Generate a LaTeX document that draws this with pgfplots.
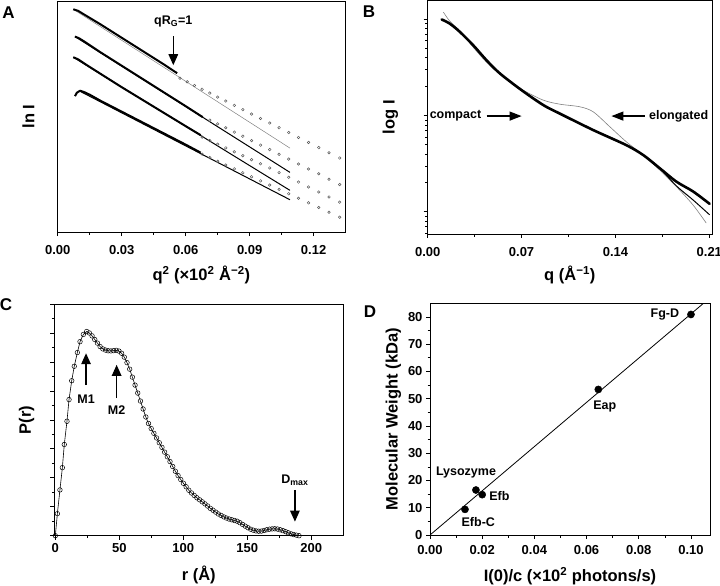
\documentclass[border=0pt]{standalone}
\usepackage{fontspec}
\setmainfont{Liberation Sans}
\usepackage{pgfplots}
\pgfplotsset{compat=1.18}
\usetikzlibrary{arrows.meta}
\tikzset{
  bigarrow/.style={line width=1.3pt, -{Triangle[length=11pt,width=9.5pt]}},
  ann/.style={font=\bfseries\fontsize{12.5}{14}\selectfont},
}
\pgfplotsset{
  panel/.style={
    scale only axis,
    anchor=north west,
    axis line style={line width=0.9pt},
    tick align=outside,
    xtick pos=left, ytick pos=left,
    tick style={black, line width=0.7pt},
    major tick length=4pt,
    minor tick length=2.5pt,
    /pgf/number format/assume math mode=true,
    tick label style={font=\bfseries\fontsize{13}{14}\selectfont},
    label style={font=\bfseries\fontsize{16.5}{18}\selectfont},
    xlabel style={at={(axis description cs:0.5,0)}, anchor=center, yshift=-41pt},
  },
  fix2/.style={xticklabel style={/pgf/number format/fixed, /pgf/number format/fixed zerofill, /pgf/number format/precision=2}},
}
\begin{document}
\begin{tikzpicture}[x=1pt,y=1pt]
\useasboundingbox (0,0) rectangle (720,-586);
% panel letters
\node[font=\bfseries\fontsize{17}{18}\selectfont] at (8.5,-13) {A};
\node[font=\bfseries\fontsize{17}{18}\selectfont] at (369,-12) {B};
\node[font=\bfseries\fontsize{17}{18}\selectfont] at (6,-305) {C};
\node[font=\bfseries\fontsize{17}{18}\selectfont] at (370,-312) {D};

% ---------------- Panel A ----------------
\begin{axis}[panel, fix2, at={(57.7pt,-1pt)}, width=287.3pt, height=231pt,
  xmin=0, xmax=0.1347, ymin=0, ymax=231.3,
  xtick={0,0.03,0.06,0.09,0.12}, minor x tick num=1,
  xticklabel shift=6pt,
  ytick=\empty,
  xlabel={q\textsuperscript{2} (×10\textsuperscript{2} Å\textsuperscript{−2})},
  xlabel style={yshift=-2pt},
  ylabel={ln I},
  ylabel style={at={(axis description cs:-0.102,0.5)}, anchor=center},
]
% fit lines
\addplot[gray, line width=0.5pt] coordinates {(0.0073,223) (0.1089,84)};
\addplot[black, line width=1pt] coordinates {(0.0081,195.7) (0.1089,59.7)};
\addplot[black, line width=1pt] coordinates {(0.0073,175) (0.1089,41.7)};
\addplot[black, line width=1pt] coordinates {(0.0100,141.4) (0.1089,32.3)};
% dense data
\addplot[black, line width=2pt, line join=round] coordinates {(0.0073,223) (0.0095,221.5) (0.013,217) (0.02,208) (0.03,194.5) (0.04,181) (0.05,167.5) (0.056,159)};
\addplot[black, line width=2pt, line join=round] coordinates {(0.0081,195.7) (0.0100,194) (0.013,190) (0.02,180) (0.03,166.5) (0.04,153) (0.05,139.5) (0.06,126) (0.068,115)};
\addplot[black, line width=2pt, line join=round] coordinates {(0.0073,175) (0.0095,173) (0.013,168) (0.02,158.5) (0.03,145) (0.04,132) (0.05,119) (0.06,106) (0.067,97)};
\addplot[black, line width=2pt, line join=round] coordinates {(0.0081,136) (0.0090,139.5) (0.0105,141.5) (0.0125,140) (0.015,137.5) (0.02,131.5) (0.03,120.5) (0.04,109.5) (0.05,98.5) (0.06,87.5) (0.067,79.5)};
% sparse circles
\addplot[only marks, mark=o, mark size=1.3pt, gray!70!black, mark options={line width=0.5pt}] coordinates {
(0.0573,154) (0.0607,150.4) (0.0641,146.7) (0.0677,142.9) (0.0713,139.1) (0.0750,135.1) (0.0788,131.1) (0.0828,126.8) (0.0868,122.5) (0.0909,118.1) (0.0951,113.7) (0.0994,109.1) (0.1038,104.4) (0.1083,99.6) (0.1129,94.7) (0.1176,89.7) (0.1224,84.5) (0.1272,79.4) (0.1322,74.1)};
\addplot[only marks, mark=o, mark size=1.3pt, gray!70!black, mark options={line width=0.5pt}] coordinates {
(0.0713,112.0) (0.0750,108.3) (0.0788,104.4) (0.0828,100.0) (0.0868,95.9) (0.0909,91.5) (0.0951,87.0) (0.0994,82.5) (0.1038,77.8) (0.1083,73.0) (0.1129,68.1) (0.1176,63.1) (0.1224,58.3) (0.1272,52.8) (0.1322,47.5)};
\addplot[only marks, mark=o, mark size=1.3pt, gray!70!black, mark options={line width=0.5pt}] coordinates {
(0.0677,95.0) (0.0713,91.5) (0.0750,87.9) (0.0788,84.2) (0.0828,80.3) (0.0868,76.4) (0.0909,72.4) (0.0951,68.3) (0.0994,64.1) (0.1038,59.5) (0.1083,54.8) (0.1129,50.0) (0.1176,45.1) (0.1224,40.1) (0.1272,35.1) (0.1322,29.9)};
\addplot[only marks, mark=o, mark size=1.3pt, gray!70!black, mark options={line width=0.5pt}] coordinates {
(0.0677,78.0) (0.0713,74.5) (0.0750,70.8) (0.0788,67.1) (0.0828,63.2) (0.0868,59.3) (0.0909,55.3) (0.0951,51.2) (0.0994,47.0) (0.1038,42.7) (0.1083,38.3) (0.1129,33.8) (0.1176,29.2) (0.1224,24.5) (0.1272,19.8) (0.1322,14.8)};
\draw[bigarrow] (axis cs:0.0542,196) -- (axis cs:0.0542,167);
\node[ann] at (axis cs:0.0542,211) {qR\textsubscript{G}=1};
\end{axis}

% ---------------- Panel B ----------------
\begin{axis}[panel, fix2, at={(427.7pt,-0.5pt)}, width=284.3pt, height=233.5pt,
  xmin=0, xmax=0.212, ymode=log, ymin=0.005875, ymax=1.574,
  xtick={0,0.07,0.14,0.21}, minor x tick num=1,
  xticklabel shift=6pt,
  yticklabel style={text opacity=0},
  xlabel={q (Å\textsuperscript{−1})},
  ylabel={log I},
  ylabel style={at={(axis description cs:-0.131,0.5)}, anchor=center},
]
\addplot[gray, line width=0.6pt, smooth] coordinates {
(0.0117,1.191) (0.0166,0.955) (0.0241,0.759) (0.034,0.513) (0.0439,0.359) (0.0539,0.269) (0.07,0.188) (0.0861,0.145) (0.0985,0.1315) (0.1134,0.1236) (0.1234,0.1096) (0.1358,0.0766) (0.148,0.0536) (0.1606,0.039) (0.173,0.0272) (0.1854,0.0183) (0.1978,0.0118) (0.2077,0.00764)};
\addplot[black, line width=1pt, smooth] coordinates {
(0.0104,1.0) (0.0166,0.902) (0.0241,0.740) (0.034,0.538) (0.0439,0.376) (0.0539,0.274) (0.07,0.184) (0.0861,0.129) (0.0985,0.105) (0.1234,0.0708) (0.148,0.0494) (0.1606,0.0390) (0.173,0.0284) (0.1854,0.0186) (0.1978,0.0133) (0.2102,0.00931)};
\addplot[black, line width=2.6pt, line cap=round, smooth] coordinates {
(0.0104,1.0) (0.0166,0.902) (0.0241,0.740) (0.034,0.538) (0.0439,0.376) (0.0539,0.274) (0.07,0.184) (0.0861,0.129) (0.0985,0.105) (0.1234,0.0708) (0.148,0.0494) (0.1606,0.0390) (0.173,0.0284) (0.1854,0.0206) (0.1978,0.0163) (0.2102,0.0121)};
\draw[line width=1.3pt, -{Triangle[length=12pt,width=9pt]}] (axis cs:0.0439,0.0989) -- (axis cs:0.0700,0.0989);
\node[ann, anchor=east] at (axis cs:0.0425,0.0989) {compact};
\draw[line width=1.3pt, -{Triangle[length=12pt,width=9pt]}] (axis cs:0.1618,0.0989) -- (axis cs:0.137,0.0989);
\node[ann, anchor=west] at (axis cs:0.1625,0.0989) {elongated};
\end{axis}

% ---------------- Panel C ----------------
\begin{axis}[panel, at={(54.3pt,-304pt)}, width=289pt, height=231.7pt,
  xmin=-0.8, xmax=225, ymin=0, ymax=16,
  xtick={0,50,100,150,200}, minor x tick num=1,
  ytick={0,2,...,16}, minor y tick num=1, yticklabels={},
  xlabel={r (Å)}, ylabel={P(r)},
  xlabel style={yshift=2pt},
  ylabel style={at={(axis description cs:-0.0955,0.5)}, anchor=center},
]
\addplot[black, line width=0.6pt, mark=o, mark size=2.3pt, mark options={fill=white, line width=0.5pt}] coordinates {
(0,0) (1.6,1.52) (3.6,3.16) (5.5,4.7) (7.0,6.3) (9.1,7.9) (10.7,9.4) (12.8,10.7) (14.8,11.7) (17.2,12.65) (19.3,13.4) (21.9,13.9) (24.5,14.1)
(26.6,14.0) (28.7,13.8) (30.8,13.55) (32.9,13.3) (35.0,13.06) (37.1,12.9) (39.2,12.82) (41.3,12.77) (43.4,12.76) (45.5,12.78) (47.6,12.8) (49.7,12.75)
(51.8,12.6) (53.9,12.33) (56.0,11.95) (58.1,11.5) (60.2,10.95) (62.3,10.4) (64.4,9.85) (66.5,9.3) (68.6,8.75) (70.7,8.2) (72.8,7.75) (74.9,7.4)
(77.0,7.07) (79.1,6.75) (81.2,6.42) (83.3,6.1) (85.4,5.77) (87.5,5.45) (89.6,5.12) (91.7,4.78) (93.8,4.45) (95.9,4.15) (98.0,3.88) (100.1,3.62)
(102.2,3.38) (104.3,3.14) (106.4,2.95) (108.5,2.78) (110.6,2.62) (112.7,2.48) (114.8,2.34) (116.9,2.2) (119.0,2.05) (121.1,1.89) (123.2,1.76)
(125.3,1.63) (127.4,1.5) (129.5,1.4) (131.6,1.3) (133.7,1.22) (135.8,1.15) (137.9,1.1) (140.0,1.05) (142.1,1.0) (144.2,0.9) (146.3,0.78)
(148.4,0.66) (150.5,0.55) (152.6,0.45) (154.7,0.38) (156.8,0.33) (158.9,0.31) (161.0,0.32) (163.1,0.36) (165.2,0.41) (167.3,0.45) (169.4,0.47)
(171.5,0.48) (173.6,0.46) (175.7,0.41) (177.8,0.35) (179.9,0.28) (182.0,0.2) (184.1,0.13) (186.2,0.08) (188.3,0.04) (190.4,0.0)};
\draw[bigarrow] (axis cs:24,10.4) -- (axis cs:24,12.6);
\node[ann] at (axis cs:24,9.45) {M1};
\draw[bigarrow] (axis cs:47.9,9.5) -- (axis cs:47.9,11.8);
\node[ann] at (axis cs:47.9,8.65) {M2};
\draw[bigarrow] (axis cs:187.2,3.16) -- (axis cs:187.2,0.97);
\node[ann] at (axis cs:187.2,3.85) {D\textsubscript{max}};
\end{axis}

% ---------------- Panel D ----------------
\begin{axis}[panel, at={(430pt,-303.3pt)}, width=280pt, height=231.7pt,
  xmin=0, xmax=0.1073, ymin=0, ymax=85,
  xtick={0,0.02,0.04,0.06,0.08,0.10}, minor x tick num=1,
  xticklabel shift=2.5pt,
  xticklabel style={/pgf/number format/fixed, /pgf/number format/fixed zerofill, /pgf/number format/precision=2},
  ytick={0,10,20,30,40,50,60,70,80}, minor y tick num=1,
  xlabel={I(0)/c (×10\textsuperscript{2} photons/s)},
  ylabel={Molecular Weight (kDa)},
  ylabel style={at={(axis description cs:-0.131,0.5)}, anchor=center},
]
\addplot[black, line width=0.8pt] coordinates {(0,0) (0.1048,85)};
\addplot[only marks, mark=*, mark size=3.6pt, black] coordinates {(0.1,80.9) (0.0645,53.4) (0.0176,16.5) (0.020,14.8) (0.0134,9.4)};
\node[ann] at (axis cs:0.090,81) {Fg-D};
\node[ann] at (axis cs:0.067,47) {Eap};
\node[ann] at (axis cs:0.0138,22.8) {Lysozyme};
\node[ann] at (axis cs:0.0266,14.3) {Efb};
\node[ann] at (axis cs:0.0185,4.9) {Efb-C};
\end{axis}
\end{tikzpicture}
\end{document}
